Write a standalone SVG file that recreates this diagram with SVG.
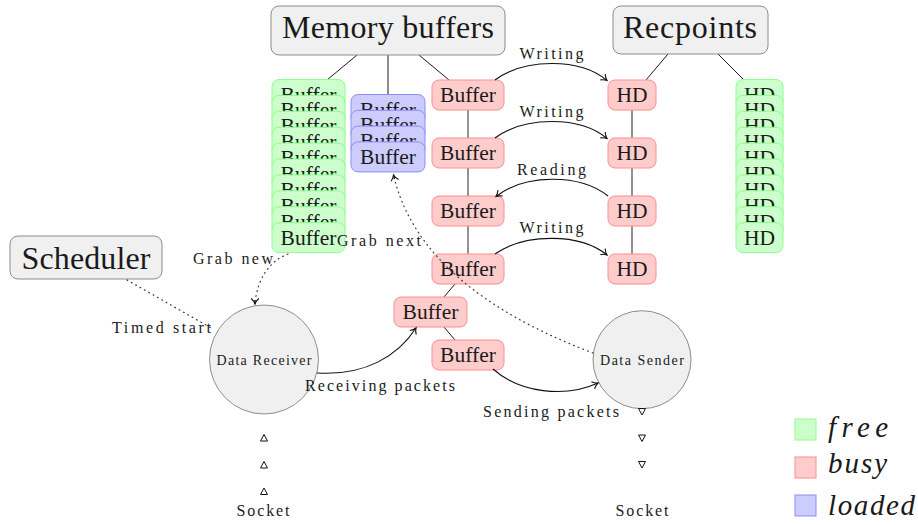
<svg xmlns="http://www.w3.org/2000/svg" width="918" height="525" viewBox="0 0 918 525">
  <style>
    text { font-family: "Liberation Serif", "DejaVu Serif", serif; fill: #1a1a1a; }
    .hdr { fill: #f0f0f0; stroke: #8c8c8c; stroke-width: 1; }
    .hdr-t { font-size: 32px; text-anchor: middle; }
    .free { fill: #ccffcc; stroke: #8cff8c; stroke-width: 1; }
    .busy { fill: #ffcccc; stroke: #ff8c8c; stroke-width: 1; }
    .loaded { fill: #ccccff; stroke: #8c8cff; stroke-width: 1; }
    .box-t { font-size: 21.5px; text-anchor: middle; }
    .proc { fill: #f0f0f0; stroke: #8c8c8c; stroke-width: 1; }
    .proc-t { font-size: 14px; text-anchor: middle; }
    .lbl { font-size: 16px; text-anchor: middle; }
    .edge { stroke: #1a1a1a; stroke-width: 1; fill: none; }
    .chain { stroke: #777; stroke-width: 1.6; fill: none; }
    .flow { stroke: #111; stroke-width: 1.1; fill: none; marker-end: url(#arr); }
    .dot { stroke: #333; stroke-width: 1.2; fill: none; stroke-dasharray: 0.8 4.2; stroke-linecap: round; }
    .tri { fill: none; stroke: #111; stroke-width: 1; }
    .leg-t { font-size: 29px; font-style: italic; }
  </style>
  <defs>
    <marker id="arr" markerUnits="userSpaceOnUse" viewBox="-7 -5 8 10" markerWidth="8" markerHeight="10" refX="0" refY="0" orient="auto" overflow="visible">
      <path d="M-5.5,-3.8 C-3.5,-1.6 -1.2,-0.4 0,0 C-1.2,0.4 -3.5,1.6 -5.5,3.8" fill="none" stroke="#111" stroke-width="1.1"/>
    </marker>
  </defs>

  <!-- tree edges and chain lines (under the nodes) -->
  <g id="tree-edges">
    <line class="edge" x1="357" y1="55" x2="327" y2="80"/>
    <line class="edge" x1="388" y1="55" x2="388" y2="95"/>
    <line class="edge" x1="419" y1="55" x2="449" y2="80"/>
    <line class="edge" x1="668" y1="54" x2="646" y2="80"/>
    <line class="edge" x1="718" y1="54" x2="744" y2="80"/>
    <line class="edge" x1="455" y1="284" x2="444" y2="297"/>
    <line class="edge" x1="444" y1="327" x2="455" y2="340"/>
    <line class="chain" x1="468" y1="110" x2="468" y2="138"/>
    <line class="chain" x1="468" y1="168" x2="468" y2="196"/>
    <line class="chain" x1="468" y1="226" x2="468" y2="254"/>
    <line class="chain" x1="632" y1="110" x2="632" y2="138"/>
    <line class="chain" x1="632" y1="168" x2="632" y2="196"/>
    <line class="chain" x1="632" y1="226" x2="632" y2="254"/>
  </g>

  <!-- header nodes -->
  <g id="memory-buffers">
    <rect class="hdr" x="271" y="6" width="234" height="49" rx="8"/>
    <text class="hdr-t" x="388" y="38" textLength="212">Memory buffers</text>
  </g>
  <g id="recpoints">
    <rect class="hdr" x="613" y="6" width="155" height="48" rx="8"/>
    <text class="hdr-t" x="690" y="38" textLength="134">Recpoints</text>
  </g>
  <g id="scheduler">
    <rect class="hdr" x="10" y="236" width="152" height="43" rx="8"/>
    <text class="hdr-t" x="86" y="269" textLength="129">Scheduler</text>
  </g>

  <!-- free buffer pool -->
  <g id="free-buffers">
    <rect class="free" x="272" y="79.5" width="73" height="30" rx="7"/><text class="box-t" x="308.5" y="101.5" textLength="56">Buffer</text>
    <rect class="free" x="272" y="95.4" width="73" height="30" rx="7"/><text class="box-t" x="308.5" y="117.4" textLength="56">Buffer</text>
    <rect class="free" x="272" y="111.3" width="73" height="30" rx="7"/><text class="box-t" x="308.5" y="133.3" textLength="56">Buffer</text>
    <rect class="free" x="272" y="127.2" width="73" height="30" rx="7"/><text class="box-t" x="308.5" y="149.2" textLength="56">Buffer</text>
    <rect class="free" x="272" y="143.1" width="73" height="30" rx="7"/><text class="box-t" x="308.5" y="165.1" textLength="56">Buffer</text>
    <rect class="free" x="272" y="159" width="73" height="30" rx="7"/><text class="box-t" x="308.5" y="181" textLength="56">Buffer</text>
    <rect class="free" x="272" y="174.9" width="73" height="30" rx="7"/><text class="box-t" x="308.5" y="196.9" textLength="56">Buffer</text>
    <rect class="free" x="272" y="190.8" width="73" height="30" rx="7"/><text class="box-t" x="308.5" y="212.8" textLength="56">Buffer</text>
    <rect class="free" x="272" y="206.7" width="73" height="30" rx="7"/><text class="box-t" x="308.5" y="228.7" textLength="56">Buffer</text>
    <rect class="free" x="272" y="222.6" width="73" height="30" rx="7"/><text class="box-t" x="308.5" y="244.6" textLength="56">Buffer</text>
  </g>

  <!-- loaded buffer pool -->
  <g id="loaded-buffers">
    <rect class="loaded" x="351" y="94.5" width="74" height="30" rx="7"/><text class="box-t" x="388" y="116.5" textLength="56">Buffer</text>
    <rect class="loaded" x="351" y="110.3" width="74" height="30" rx="7"/><text class="box-t" x="388" y="132.3" textLength="56">Buffer</text>
    <rect class="loaded" x="351" y="126.1" width="74" height="30" rx="7"/><text class="box-t" x="388" y="148.1" textLength="56">Buffer</text>
    <rect class="loaded" x="351" y="141.9" width="74" height="30" rx="7"/><text class="box-t" x="388" y="163.9" textLength="56">Buffer</text>
  </g>

  <!-- busy buffers -->
  <g id="busy-buffer-1"><rect class="busy" x="432" y="80" width="72" height="30" rx="7"/><text class="box-t" x="468" y="102" textLength="56">Buffer</text></g>
  <g id="busy-buffer-2"><rect class="busy" x="432" y="138" width="72" height="30" rx="7"/><text class="box-t" x="468" y="160" textLength="56">Buffer</text></g>
  <g id="busy-buffer-3"><rect class="busy" x="432" y="196" width="72" height="30" rx="7"/><text class="box-t" x="468" y="218" textLength="56">Buffer</text></g>
  <g id="busy-buffer-4"><rect class="busy" x="432" y="254" width="72" height="30" rx="7"/><text class="box-t" x="468" y="276" textLength="56">Buffer</text></g>
  <g id="busy-buffer-5"><rect class="busy" x="394" y="297" width="73" height="30" rx="7"/><text class="box-t" x="430.5" y="319" textLength="56">Buffer</text></g>
  <g id="busy-buffer-6"><rect class="busy" x="432" y="340" width="72" height="30" rx="7"/><text class="box-t" x="468" y="362" textLength="56">Buffer</text></g>

  <!-- busy disks -->
  <g id="busy-hd-1"><rect class="busy" x="608" y="80" width="48" height="30" rx="7"/><text class="box-t" x="632" y="102" textLength="31">HD</text></g>
  <g id="busy-hd-2"><rect class="busy" x="608" y="138" width="48" height="30" rx="7"/><text class="box-t" x="632" y="160" textLength="31">HD</text></g>
  <g id="busy-hd-3"><rect class="busy" x="608" y="196" width="48" height="30" rx="7"/><text class="box-t" x="632" y="218" textLength="31">HD</text></g>
  <g id="busy-hd-4"><rect class="busy" x="608" y="254" width="48" height="30" rx="7"/><text class="box-t" x="632" y="276" textLength="31">HD</text></g>

  <!-- free disk pool -->
  <g id="free-hds">
    <rect class="free" x="736" y="79.5" width="47" height="30" rx="7"/><text class="box-t" x="759.5" y="101.5" textLength="31">HD</text>
    <rect class="free" x="736" y="95.4" width="47" height="30" rx="7"/><text class="box-t" x="759.5" y="117.4" textLength="31">HD</text>
    <rect class="free" x="736" y="111.3" width="47" height="30" rx="7"/><text class="box-t" x="759.5" y="133.3" textLength="31">HD</text>
    <rect class="free" x="736" y="127.2" width="47" height="30" rx="7"/><text class="box-t" x="759.5" y="149.2" textLength="31">HD</text>
    <rect class="free" x="736" y="143.1" width="47" height="30" rx="7"/><text class="box-t" x="759.5" y="165.1" textLength="31">HD</text>
    <rect class="free" x="736" y="159" width="47" height="30" rx="7"/><text class="box-t" x="759.5" y="181" textLength="31">HD</text>
    <rect class="free" x="736" y="174.9" width="47" height="30" rx="7"/><text class="box-t" x="759.5" y="196.9" textLength="31">HD</text>
    <rect class="free" x="736" y="190.8" width="47" height="30" rx="7"/><text class="box-t" x="759.5" y="212.8" textLength="31">HD</text>
    <rect class="free" x="736" y="206.7" width="47" height="30" rx="7"/><text class="box-t" x="759.5" y="228.7" textLength="31">HD</text>
    <rect class="free" x="736" y="222.6" width="47" height="30" rx="7"/><text class="box-t" x="759.5" y="244.6" textLength="31">HD</text>
  </g>

  <!-- processes -->
  <g id="data-receiver">
    <circle class="proc" cx="264" cy="359.5" r="54.5"/>
    <text class="proc-t" x="264" y="365" textLength="95">Data Receiver</text>
  </g>
  <g id="data-sender">
    <circle class="proc" cx="642" cy="359.7" r="49"/>
    <text class="proc-t" x="642" y="365" textLength="84">Data Sender</text>
  </g>

  <!-- sockets -->
  <g id="socket-in">
    <polygon class="tri" points="264,434.5 260.5,441 267.5,441"/>
    <polygon class="tri" points="264,461.5 260.5,468 267.5,468"/>
    <polygon class="tri" points="264,488 260.5,494.5 267.5,494.5"/>
    <text class="lbl" x="263" y="516" textLength="53">Socket</text>
  </g>
  <g id="socket-out">
    <polygon class="tri" points="642,415 638.5,408.5 645.5,408.5"/>
    <polygon class="tri" points="642,441.5 638.5,435 645.5,435"/>
    <polygon class="tri" points="642,468 638.5,461.5 645.5,461.5"/>
    <text class="lbl" x="642" y="516" textLength="53">Socket</text>
  </g>

  <!-- connectors -->
  <g id="connectors">
    <path class="flow" d="M495,80 C525,58 580,58 607,80.5"/>
    <text class="lbl" x="551.5" y="59" textLength="64">Writing</text>
    <path class="flow" d="M495,138 C525,116 580,116 607,138.5"/>
    <text class="lbl" x="551.5" y="117" textLength="64">Writing</text>
    <path class="flow" d="M608,196 C580,173.5 525,173.5 496,196.5"/>
    <text class="lbl" x="551.5" y="175" textLength="69">Reading</text>
    <path class="flow" d="M495,254 C525,233 580,233 607,255"/>
    <text class="lbl" x="551.5" y="233" textLength="64">Writing</text>

    <path class="flow" d="M317,373 C365,376 398,356 416,328"/>
    <text class="lbl" x="380" y="391" textLength="150">Receiving packets</text>
    <path class="flow" d="M493,369 C520,393 565,398 598,383"/>
    <text class="lbl" x="551" y="417" textLength="136">Sending packets</text>

    <path class="dot" d="M127,280 L213,329"/>
    <text class="lbl" x="161.5" y="333" textLength="99">Timed start</text>
    <path class="dot" d="M288,254 Q260,265 255,302"/>
    <path class="flow" d="M255,300 L255,304" stroke-width="0"/>
    <text class="lbl" x="233" y="264" textLength="80">Grab new</text>
    <path class="dot" d="M593,353 Q421,288 394,177"/>
    <path class="flow" d="M394.5,179 L393.5,175" stroke-width="0"/>
    <text class="lbl" x="379" y="246" textLength="84">Grab next</text>
  </g>

  <!-- legend -->
  <g id="legend">
    <rect class="free" x="795" y="419" width="21" height="21"/>
    <text class="leg-t" x="828" y="437" textLength="60">free</text>
    <rect class="busy" x="795" y="457" width="21" height="21"/>
    <text class="leg-t" x="828" y="473" textLength="59">busy</text>
    <rect class="loaded" x="795" y="495" width="21" height="21"/>
    <text class="leg-t" x="828" y="515" textLength="87">loaded</text>
  </g>
</svg>
